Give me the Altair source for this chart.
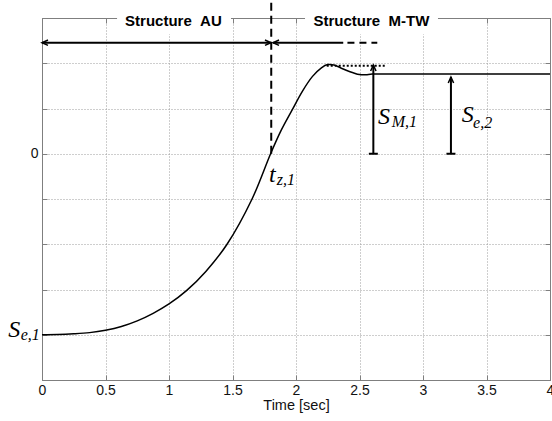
import altair as alt
import pandas as pd

# ---------------- data ----------------
t_curve = [0, 0.125, 0.25, 0.375, 0.5, 0.625, 0.75, 0.875, 1.0, 1.14, 1.29, 1.457, 1.654, 1.80,
           1.88, 1.97, 2.05, 2.13, 2.2, 2.25, 2.3, 2.35, 2.4, 2.45, 2.5, 2.55, 2.6, 3.0, 3.5, 4.0]
s_curve = [-4.0, -3.996, -3.98, -3.953, -3.90, -3.818, -3.694, -3.527, -3.32, -3.02, -2.6, -2.0,
           -1.0, 0.0, 0.5, 0.97, 1.38, 1.71, 1.90, 1.97, 1.96, 1.90, 1.84, 1.79, 1.75, 1.745,
           1.76, 1.76, 1.76, 1.76]

x_ticks = [0, 0.5, 1, 1.5, 2, 2.5, 3, 3.5, 4]
y_ticks = [-5, -4, -3, -2, -1, 0, 1, 2, 3]

structure_names = ["Structure\u00a0\u00a0AU", "Structure\u00a0\u00a0M-TW"]
structure_x = [1.035, 2.594]
structure_y = [2.923, 2.923]
box_x1 = [0.591, 2.071]
box_x2 = [1.488, 3.118]
box_y1 = [2.64, 2.64]
box_y2 = [3.2, 3.2]

sym_main = ["S", "S", "S", "t"]
sym_main_x = [-0.265, 2.646, 3.305, 1.787]
sym_main_y = [-4.056, 0.668, 0.702, -0.619]
sym_sub = ["e,1", "M,1", "e,2", "z,1"]
sym_sub_x = [-0.168, 2.754, 3.394, 1.848]
sym_sub_y = [-4.116, 0.598, 0.576, -0.69]

varrow_t = [2.609, 3.22]
varrow_base = [0.0, 0.0]
varrow_tip = [1.961, 1.696]

harrow_y = 2.454
solid_x1 = [0.0, 1.819]
solid_x2 = [1.803, 2.372]
dashed_x1 = [2.405]
dashed_x2 = [2.64]
head_left_x = [0.0, 1.819]
head_right_x = [1.803]

tz_t = [1.805]
tz_bottom = [0.0]
tz_top = [3.398]

peak_x1 = [2.242]
peak_x2 = [2.714]
peak_y = [1.945]

# ---------------- layout / style ----------------
W, H = 508, 362
FONT = "Liberation Sans"
SERIF = "Liberation Serif"
AXC = "#7f7f7f"
TXT = "#111111"
xs = alt.Scale(domain=[0, 4], nice=False, zero=False)
ys = alt.Scale(domain=[-5, 3], nice=False, zero=False)

UP = "M-0.9,2L0,0L0.9,2"
LEFT = "M2,-0.9L0,0L2,0.9"
RIGHT = "M-2,-0.9L0,0L-2,0.9"
BASE = "M-1,0L1,0"


def X(f):
    return alt.X(f, type="quantitative", scale=xs, axis=None)


def Y(f):
    return alt.Y(f, type="quantitative", scale=ys, axis=None)


grid = dict(grid=True, gridColor="#9c9c9c", gridDash=[1, 2], gridWidth=1, gridOpacity=1)
noaxislabels = dict(labels=False, title=None, grid=False, ticks=True, tickSize=5,
                    tickColor=AXC, tickWidth=1)

curve_df = pd.DataFrame({"t": t_curve, "s": s_curve})
curve = alt.Chart(curve_df).mark_line(color="black", strokeWidth=1.5, interpolate="catmull-rom").encode(
    x=alt.X("t:Q", scale=xs, axis=alt.Axis(
        orient="bottom", values=x_ticks, format="~g", title="Time [sec]", ticks=False,
        domain=True, domainColor=AXC, labelFont=FONT, labelFontSize=14, labelColor=TXT,
        labelPadding=3, labelFlush=False, labelOverlap=False, titleFont=FONT, titleFontSize=14.5,
        titleFontWeight="normal", titleColor=TXT, titlePadding=1, **grid)),
    y=alt.Y("s:Q", scale=ys, axis=alt.Axis(
        orient="left", values=y_ticks, labelExpr="datum.value == 0 ? '0' : ''", title=None,
        ticks=False, domain=True, domainColor=AXC, labelFont=FONT, labelFontSize=14,
        labelColor=TXT, labelPadding=4, labelFlush=False, labelOverlap=False, **grid)),
)

peak_df = pd.DataFrame({"x1": peak_x1, "x2": peak_x2, "y": peak_y})
peak = alt.Chart(peak_df).mark_rule(color="black", strokeWidth=2, strokeDash=[2, 2]).encode(
    x=alt.X("x1:Q", scale=xs, axis=alt.Axis(orient="bottom", offset=-H, values=x_ticks,
                                            domain=True, domainColor=AXC, **noaxislabels)),
    x2="x2:Q",
    y=alt.Y("y:Q", scale=ys, axis=alt.Axis(orient="left", offset=-W, values=y_ticks,
                                           domain=True, domainColor=AXC, **noaxislabels)),
)

tz_df = pd.DataFrame({"t": tz_t, "y1": tz_bottom, "y2": tz_top})
tzline = alt.Chart(tz_df).mark_rule(color="black", strokeWidth=2, strokeDash=[8, 5], clip=False).encode(
    x=alt.X("t:Q", scale=xs, axis=alt.Axis(orient="top", offset=-H, values=x_ticks,
                                           domain=False, **noaxislabels)),
    y=alt.Y("y1:Q", scale=ys, axis=alt.Axis(orient="right", offset=-W, values=y_ticks,
                                            domain=False, **noaxislabels)),
    y2="y2:Q",
)

box_df = pd.DataFrame({"x1": box_x1, "x2": box_x2, "y1": box_y1, "y2": box_y2})
boxes = alt.Chart(box_df).mark_rect(color="white").encode(
    x=X("x1"), x2="x2", y=Y("y1"), y2="y2")

st_df = pd.DataFrame({"name": structure_names, "x": structure_x, "y": structure_y})
st_text = alt.Chart(st_df).mark_text(font=FONT, fontWeight="bold", fontSize=15, color="black",
                                     align="center", baseline="middle").encode(
    x=X("x"), y=Y("y"), text="name:N")

sol_df = pd.DataFrame({"x1": solid_x1, "x2": solid_x2, "y": [harrow_y] * len(solid_x1)})
sol = alt.Chart(sol_df).mark_rule(color="black", strokeWidth=2).encode(
    x=X("x1"), x2="x2", y=Y("y"))
dash_df = pd.DataFrame({"x1": dashed_x1, "x2": dashed_x2, "y": [harrow_y] * len(dashed_x1)})
dash = alt.Chart(dash_df).mark_rule(color="black", strokeWidth=2, strokeDash=[7, 5]).encode(
    x=X("x1"), x2="x2", y=Y("y"))

hl_df = pd.DataFrame({"x": head_left_x, "y": [harrow_y] * len(head_left_x)})
hl = alt.Chart(hl_df).mark_point(shape=LEFT, size=36, filled=False, color="black",
                                  strokeWidth=1.5, opacity=1).encode(x=X("x"), y=Y("y"))
hr_df = pd.DataFrame({"x": head_right_x, "y": [harrow_y] * len(head_right_x)})
hr = alt.Chart(hr_df).mark_point(shape=RIGHT, size=36, filled=False, color="black",
                                  strokeWidth=1.5, opacity=1).encode(x=X("x"), y=Y("y"))

va_df = pd.DataFrame({"t": varrow_t, "b": varrow_base, "tip": varrow_tip})
va = alt.Chart(va_df).mark_rule(color="black", strokeWidth=2).encode(
    x=X("t"), y=Y("b"), y2="tip")
va_head = alt.Chart(va_df).mark_point(shape=UP, size=36, filled=False, color="black",
                                      strokeWidth=1.5, opacity=1).encode(x=X("t"), y=Y("tip"))
va_base = alt.Chart(va_df).mark_point(shape=BASE, size=81, filled=False, color="black",
                                      strokeWidth=2, opacity=1).encode(x=X("t"), y=Y("b"))

main_df = pd.DataFrame({"txt": sym_main, "x": sym_main_x, "y": sym_main_y})
main_txt = alt.Chart(main_df).mark_text(font=SERIF, fontStyle="italic", fontSize=24, color="black",
                                        align="left", baseline="alphabetic").encode(
    x=X("x"), y=Y("y"), text="txt:N")
sub_df = pd.DataFrame({"txt": sym_sub, "x": sym_sub_x, "y": sym_sub_y})
sub_txt = alt.Chart(sub_df).mark_text(font=SERIF, fontStyle="italic", fontSize=16, color="black",
                                      align="left", baseline="alphabetic").encode(
    x=X("x"), y=Y("y"), text="txt:N")

chart = alt.layer(
    curve, peak, tzline, boxes, st_text, sol, dash, hl, hr, va, va_head, va_base, main_txt, sub_txt
).resolve_axis(x="independent", y="independent").properties(
    width=W, height=H,
    padding={"left": 42, "top": 18, "right": 2, "bottom": 41},
    autosize="none",
    background="white",
).configure_view(stroke=None)

chart.save("out.html", embed_options={"renderer": "svg", "actions": False})
